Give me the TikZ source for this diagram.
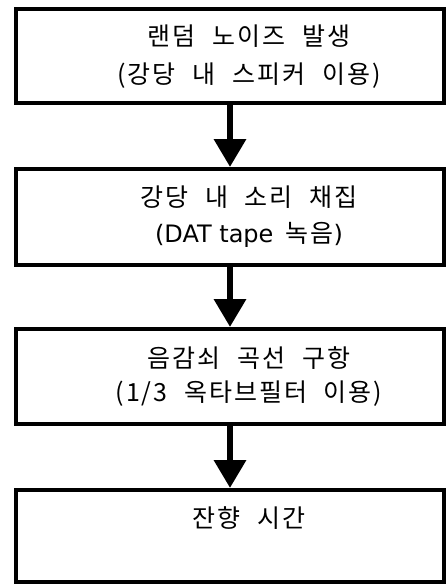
\documentclass[tikz,border=0pt]{standalone}
\usepackage{fontspec}
\setmainfont{Noto Sans CJK KR}[LetterSpace=8,WordSpace=2.2]
\newfontfamily\latfont{DejaVu Sans}
\usetikzlibrary{arrows.meta}
\begin{document}
\begin{tikzpicture}[x=1pt,y=-1pt,
  box/.style={draw=black,line width=4pt,minimum width=428pt,inner sep=0pt},
  txt/.style={anchor=base,inner sep=0pt,font=\fontsize{25pt}{30pt}\selectfont},
  arr/.style={draw=black,line width=6.5pt,-{Triangle[width=31pt,length=28pt]}}]
\useasboundingbox (0,0) rectangle (447,586);
\node[box,minimum height=94pt] (b1) at (230,56) {};
\node[box,minimum height=96pt] (b2) at (230,217) {};
\node[box,minimum height=95pt] (b3) at (230,376.5) {};
\node[box,minimum height=92pt] (b4) at (230,536) {};
\node[txt] (t11) at (249,46) {랜덤 노이즈 발생};
\node[txt] (t12) at (249,84) {(강당 내 스피커 이용)};
\node[txt] (t21) at (249,206) {강당 내 소리 채집};
\node[txt] (t22) at (249,242) {{\latfont\fontsize{24pt}{29pt}\selectfont (DAT tape}\hspace{12pt}녹음{\latfont\fontsize{24pt}{29pt}\selectfont )}};
\node[txt] (t31) at (249,367) {음감쇠 곡선 구항};
\node[txt] (t32) at (249,401) {(1/3 옥타브필터 이용)};
\node[txt] (t41) at (249,527) {잔향 시간};
\draw[arr] (b1.south) -- (b2.north);
\draw[arr] (b2.south) -- (b3.north);
\draw[arr] (b3.south) -- (b4.north);
\end{tikzpicture}
\end{document}
